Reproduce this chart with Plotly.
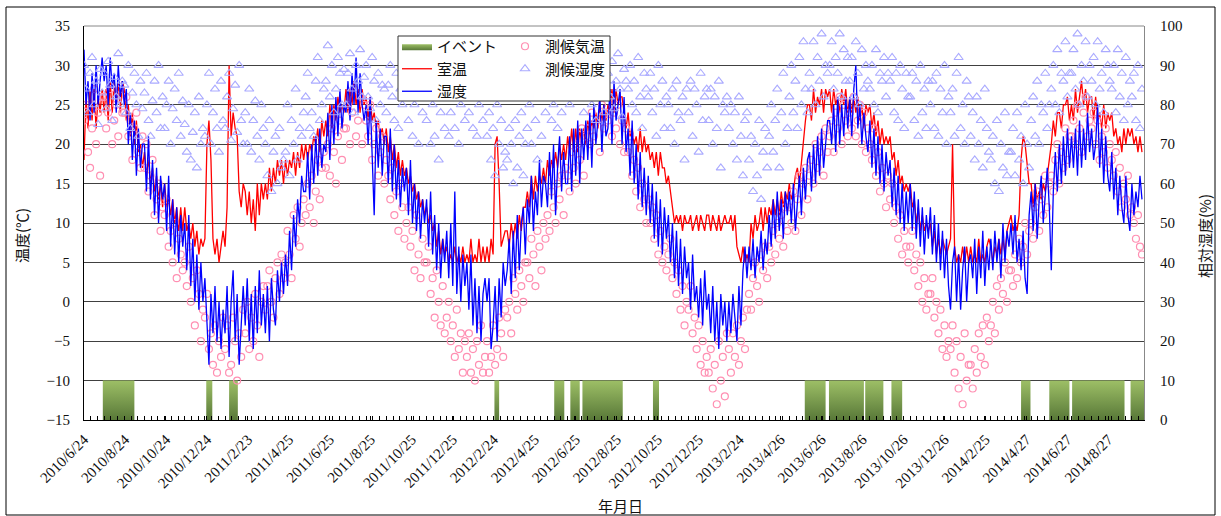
import itertools
import pandas as pd
import plotly.graph_objects as go

# ---------------- data ----------------
START = "2010-06-24"      # first day of record, values every 3 days
AXIS_END = "2014-10-19"

tick_labels = ["2010/6/24", "2010/8/24", "2010/10/24", "2010/12/24", "2011/2/23", "2011/4/25",
               "2011/6/25", "2011/8/25", "2011/10/25", "2011/12/25", "2012/2/24", "2012/4/25",
               "2012/6/25", "2012/8/25", "2012/10/25", "2012/12/25", "2013/2/24", "2013/4/26",
               "2013/6/26", "2013/8/26", "2013/10/26", "2013/12/26", "2014/2/25", "2014/4/27",
               "2014/6/27", "2014/8/27"]

# room temperature (°C), 3-day steps
room_temp = [
    [18, 26, 22, 27, 23, 27, 22, 26, 24, 27],
    [24, 27, 23, 28, 24, 28, 25, 28, 24, 28],
    [27, 23, 25, 21, 24, 20, 23, 19, 20, 17],
    [19, 16, 18, 15, 17, 14, 16, 13, 15, 12],
    [15, 12, 13, 11, 13, 10, 12, 9, 12, 9],
    [12, 9, 10, 8, 10, 7, 9, 6, 8, 7],
    [8, 20, 23, 18, 8, 6, 8, 5, 7, 9],
    [7, 12, 30, 21, 24, 22, 21, 14, 12, 15],
    [14, 11, 14, 10, 13, 9, 15, 11, 15, 13],
    [15, 13, 17, 14, 17, 15, 18, 16, 18, 15],
    [18, 16, 18, 17, 19, 16, 19, 17, 20, 18],
    [20, 18, 20, 19, 21, 20, 22, 19, 23, 21],
    [23, 21, 25, 22, 25, 23, 26, 24, 25, 24],
    [27, 24, 27, 25, 28, 25, 27, 24, 27, 25],
    [26, 23, 26, 23, 24, 22, 23, 21, 22, 20],
    [22, 19, 21, 18, 20, 17, 19, 16, 18, 16],
    [17, 15, 16, 14, 15, 13, 14, 12, 13, 11],
    [12, 10, 11, 9, 10, 7, 9, 6, 8, 6],
    [7, 5, 6, 5, 7, 5, 6, 5, 7, 5],
    [6, 5, 8, 5, 6, 5, 8, 5, 7, 5],
    [7, 5, 8, 6, 20, 21, 15, 7, 8, 9],
    [9, 7, 10, 8, 10, 8, 11, 9, 12, 12],
    [14, 12, 16, 13, 16, 14, 16, 15, 17, 15],
    [18, 16, 18, 17, 19, 17, 20, 18, 20, 18],
    [21, 19, 22, 19, 22, 19, 22, 20, 22, 20],
    [23, 21, 23, 22, 24, 22, 25, 23, 25, 23],
    [25, 24, 27, 24, 27, 25, 26, 26, 24, 22],
    [24, 21, 22, 20, 21, 19, 22, 19, 21, 19],
    [20, 18, 19, 17, 19, 16, 19, 17, 17, 15],
    [16, 14, 12, 10, 11, 10, 11, 9, 11, 10],
    [10, 11, 9, 10, 11, 9, 11, 10, 9, 11],
    [11, 9, 11, 10, 9, 11, 9, 10, 11, 10],
    [10, 11, 9, 11, 7, 6, 5, 7, 5, 6],
    [5, 10, 8, 11, 9, 10, 12, 9, 12, 10],
    [12, 11, 13, 11, 13, 11, 14, 12, 14, 13],
    [15, 13, 14, 16, 17, 15, 18, 20, 23, 25],
    [25, 23, 27, 24, 26, 25, 27, 24, 27, 26],
    [27, 24, 27, 25, 26, 24, 27, 25, 27, 24],
    [26, 24, 26, 24, 26, 23, 25, 22, 25, 24],
    [25, 22, 24, 21, 23, 20, 22, 20, 21, 20],
    [21, 18, 19, 16, 18, 15, 16, 14, 15, 14],
    [15, 12, 13, 10, 12, 9, 11, 9, 10, 9],
    [10, 7, 9, 6, 8, 6, 8, 7, 6, 7],
    [8, 20, 7, 5, 6, 5, 7, 5, 7, 5],
    [7, 5, 6, 5, 8, 5, 6, 5, 7, 8],
    [7, 5, 7, 6, 8, 6, 8, 6, 9, 10],
    [11, 9, 10, 9, 11, 18, 21, 20, 17, 15],
    [15, 12, 15, 13, 14, 13, 15, 14, 16, 18],
    [20, 23, 21, 24, 24, 22, 25, 25, 26, 23],
    [25, 23, 27, 24, 26, 28, 25, 27, 24, 26],
    [26, 23, 26, 23, 24, 22, 25, 22, 24, 23],
    [24, 21, 22, 20, 21, 19, 22, 20, 22, 21],
    [22, 20, 21, 19, 21, 19],
]

# room relative humidity (%), 3-day steps
room_hum = [
    [94, 80, 86, 76, 88, 78, 90, 80, 86, 92],
    [86, 90, 80, 92, 84, 88, 78, 90, 82, 86],
    [80, 84, 70, 78, 66, 76, 62, 74, 64, 70],
    [70, 58, 72, 56, 66, 52, 64, 50, 62, 56],
    [60, 48, 62, 44, 56, 42, 54, 40, 52, 44],
    [50, 38, 52, 34, 46, 30, 42, 28, 40, 30],
    [36, 24, 14, 32, 22, 34, 20, 30, 18, 28],
    [22, 34, 16, 30, 38, 20, 32, 14, 24, 34],
    [24, 36, 20, 32, 18, 34, 22, 38, 24, 32],
    [22, 34, 20, 36, 28, 24, 38, 30, 40, 32],
    [42, 34, 48, 38, 52, 44, 56, 50, 62, 58],
    [58, 68, 56, 70, 60, 72, 62, 74, 64, 70],
    [68, 78, 66, 80, 70, 82, 72, 84, 74, 80],
    [78, 86, 76, 88, 80, 92, 78, 88, 80, 76],
    [80, 70, 82, 66, 52, 76, 64, 74, 62, 72],
    [72, 60, 74, 58, 70, 56, 66, 54, 64, 58],
    [64, 52, 66, 50, 60, 48, 58, 46, 56, 50],
    [56, 44, 58, 42, 52, 38, 50, 36, 46, 40],
    [48, 36, 50, 34, 58, 32, 44, 30, 42, 34],
    [40, 28, 42, 24, 36, 22, 34, 20, 32, 36],
    [30, 36, 18, 24, 34, 20, 36, 26, 40, 34],
    [38, 46, 32, 48, 36, 52, 38, 50, 54, 42],
    [56, 50, 62, 48, 58, 52, 66, 54, 62, 60],
    [54, 68, 56, 70, 52, 64, 72, 58, 68, 60],
    [60, 72, 58, 74, 62, 76, 60, 74, 66, 76],
    [66, 78, 64, 80, 70, 76, 82, 68, 80, 72],
    [74, 84, 70, 86, 76, 80, 84, 70, 82, 68],
    [74, 62, 76, 60, 70, 56, 68, 54, 64, 52],
    [62, 50, 60, 46, 58, 44, 56, 42, 54, 46],
    [52, 40, 50, 36, 48, 34, 46, 32, 44, 36],
    [40, 28, 42, 30, 34, 26, 36, 24, 38, 28],
    [32, 22, 34, 20, 30, 18, 32, 24, 30, 20],
    [30, 22, 32, 26, 20, 34, 24, 38, 44, 36],
    [44, 38, 46, 36, 44, 40, 48, 38, 46, 42],
    [52, 44, 56, 46, 58, 48, 56, 46, 58, 52],
    [58, 50, 60, 48, 56, 62, 52, 64, 56, 66],
    [68, 58, 70, 60, 72, 62, 74, 64, 70, 76],
    [76, 70, 80, 68, 82, 70, 80, 72, 82, 74],
    [82, 72, 84, 90, 74, 80, 70, 78, 72, 68],
    [76, 64, 74, 62, 72, 60, 70, 58, 68, 62],
    [66, 54, 64, 52, 62, 50, 60, 48, 58, 50],
    [60, 48, 58, 46, 56, 44, 54, 42, 52, 46],
    [54, 42, 52, 40, 50, 38, 48, 36, 46, 34],
    [28, 40, 44, 30, 42, 28, 38, 44, 30, 40],
    [42, 36, 46, 32, 44, 36, 48, 34, 44, 38],
    [46, 38, 48, 40, 46, 36, 50, 40, 48, 44],
    [50, 42, 52, 40, 46, 38, 48, 36, 32, 52],
    [58, 48, 60, 46, 56, 62, 50, 58, 64, 54],
    [38, 58, 68, 58, 70, 60, 72, 62, 74, 64],
    [72, 64, 74, 62, 76, 64, 74, 66, 78, 68],
    [74, 66, 70, 80, 64, 74, 60, 72, 62, 58],
    [68, 56, 64, 52, 62, 54, 50, 62, 52, 48],
    [60, 52, 58, 54, 62, 56],
]

# weather station air temperature (°C)
station_temp = [
    [23, 25, 19, 17, 22, 27, 20, 24, 16, 26],
    [26, 22, 24, 27, 20, 23, 25, 21, 27, 24],
    [24, 26, 21, 23, 18, 22, 24, 19, 17, 21],
    [17, 20, 14, 16, 18, 11, 13, 15, 9, 12],
    [11, 13, 7, 9, 5, 10, 3, 8, 6, 4],
    [5, 2, 7, 0, 3, -3, 4, 1, -5, -1],
    [-2, 1, -6, -4, -8, -3, -9, -5, -7, -2],
    [-6, -3, -9, -8, -2, -5, -10, -4, -7, -1],
    [-4, 0, -6, -2, -5, 1, -3, -7, 0, 2],
    [-1, 2, 4, 0, -2, 3, 5, 1, 6, 3],
    [5, 9, 6, 3, 11, 8, 12, 7, 10, 13],
    [11, 15, 12, 16, 10, 14, 18, 13, 17, 19],
    [17, 20, 16, 22, 19, 15, 21, 23, 18, 22],
    [22, 25, 20, 24, 27, 21, 23, 26, 20, 25],
    [23, 21, 25, 18, 20, 22, 16, 19, 21, 15],
    [18, 16, 13, 17, 11, 14, 9, 15, 12, 8],
    [10, 12, 7, 9, 4, 11, 6, 3, 8, 5],
    [5, 7, 1, 3, -2, 4, 0, -3, 2, -4],
    [-2, 0, -5, -3, -7, -1, -6, -4, -9, -5],
    [-7, -4, -9, -6, -10, -5, -8, -3, -9, -7],
    [-5, -9, -7, -3, -8, -6, -2, -4, -7, -1],
    [-2, 0, -4, 3, 1, -1, 4, 2, 0, 5],
    [5, 3, 8, 6, 2, 9, 7, 4, 10, 8],
    [11, 9, 14, 12, 10, 15, 13, 16, 11, 17],
    [16, 14, 19, 17, 15, 20, 18, 22, 16, 21],
    [22, 20, 24, 21, 26, 23, 19, 25, 22, 24],
    [23, 26, 21, 24, 22, 25, 20, 23, 19, 22],
    [19, 21, 16, 18, 14, 17, 12, 15, 13, 10],
    [13, 10, 12, 8, 11, 6, 9, 5, 7, 4],
    [6, 8, 3, 5, 1, 4, -1, 2, -3, 0],
    [-1, 2, -4, -2, -6, -3, -8, -5, -9, -7],
    [-9, -6, -11, -8, -13, -5, -10, -7, -12, -4],
    [-6, -9, -4, -7, -3, -8, -5, -2, -6, -1],
    [1, -1, 3, 5, 2, 0, 6, 4, 7, 3],
    [7, 5, 9, 6, 10, 8, 11, 7, 12, 9],
    [12, 10, 14, 9, 13, 16, 11, 15, 17, 13],
    [16, 18, 15, 20, 17, 19, 21, 16, 22, 19],
    [21, 23, 19, 24, 22, 26, 20, 25, 23, 21],
    [24, 22, 26, 21, 23, 25, 20, 24, 19, 22],
    [20, 18, 22, 16, 19, 14, 17, 15, 12, 16],
    [13, 15, 10, 12, 8, 11, 6, 9, 7, 5],
    [7, 9, 4, 6, 2, 5, 0, 3, -1, 1],
    [1, 3, -2, 0, -4, -1, -6, -3, -7, -5],
    [-6, -3, -9, -5, -11, -7, -13, -4, -10, -8],
    [-8, -11, -6, -9, -4, -7, -3, -8, -2, -5],
    [-3, 0, -4, 2, -1, 3, 1, 5, 0, 4],
    [4, 2, 6, 3, 8, 5, 7, 10, 6, 9],
    [10, 8, 12, 14, 9, 13, 11, 16, 12, 15],
    [16, 14, 18, 20, 15, 19, 17, 22, 18, 21],
    [21, 23, 20, 25, 22, 19, 24, 26, 21, 23],
    [22, 24, 20, 23, 18, 21, 19, 22, 17, 20],
    [18, 16, 19, 14, 17, 12, 15, 13, 16, 11],
    [12, 10, 8, 11, 7, 6],
]

# weather station relative humidity (%)
station_hum = [
    [90, 84, 78, 88, 92, 80, 86, 75, 89, 83],
    [88, 79, 91, 85, 76, 87, 82, 93, 80, 86],
    [85, 78, 90, 74, 83, 88, 80, 72, 86, 79],
    [83, 88, 76, 72, 81, 86, 78, 90, 74, 82],
    [74, 80, 86, 70, 79, 84, 76, 88, 72, 81],
    [75, 68, 80, 66, 73, 78, 64, 82, 70, 74],
    [72, 80, 88, 70, 78, 84, 74, 68, 86, 76],
    [74, 82, 88, 71, 79, 85, 73, 90, 76, 70],
    [78, 70, 84, 68, 76, 81, 72, 66, 80, 74],
    [70, 62, 76, 58, 68, 72, 60, 74, 64, 66],
    [68, 80, 62, 76, 70, 84, 66, 74, 72, 78],
    [82, 88, 74, 78, 72, 86, 92, 76, 80, 84],
    [86, 95, 82, 90, 78, 84, 92, 88, 80, 89],
    [80, 88, 93, 84, 78, 90, 86, 94, 82, 87],
    [90, 82, 79, 92, 86, 76, 88, 80, 85, 84],
    [78, 85, 90, 82, 76, 88, 74, 84, 80, 86],
    [88, 76, 84, 72, 80, 86, 70, 82, 78, 84],
    [76, 84, 70, 80, 72, 86, 66, 78, 82, 74],
    [82, 72, 78, 88, 74, 84, 70, 80, 86, 76],
    [84, 78, 88, 74, 86, 72, 80, 84, 76, 82],
    [72, 78, 66, 74, 62, 80, 70, 76, 64, 68],
    [66, 74, 70, 60, 76, 64, 72, 78, 62, 70],
    [74, 80, 70, 84, 76, 66, 82, 72, 88, 78],
    [82, 88, 76, 80, 92, 74, 86, 78, 84, 90],
    [88, 80, 94, 84, 90, 82, 86, 92, 78, 88],
    [84, 90, 80, 86, 76, 92, 82, 88, 78, 86],
    [88, 82, 91, 79, 86, 93, 84, 77, 89, 86],
    [84, 90, 80, 86, 78, 92, 82, 74, 88, 84],
    [82, 88, 78, 84, 72, 90, 80, 86, 74, 82],
    [80, 74, 84, 70, 86, 78, 76, 82, 66, 84],
    [78, 86, 72, 84, 80, 68, 88, 76, 82, 84],
    [76, 84, 70, 82, 74, 86, 64, 80, 78, 82],
    [74, 80, 70, 78, 66, 82, 72, 62, 76, 78],
    [66, 72, 58, 70, 62, 76, 56, 68, 74, 64],
    [72, 80, 68, 76, 84, 64, 78, 88, 70, 74],
    [82, 90, 78, 86, 74, 92, 80, 96, 84, 78],
    [88, 84, 96, 80, 92, 86, 98, 82, 90, 88],
    [90, 96, 84, 92, 88, 98, 82, 94, 86, 92],
    [86, 92, 82, 96, 88, 80, 94, 84, 90, 86],
    [84, 90, 80, 94, 78, 88, 86, 92, 82, 88],
    [86, 92, 78, 88, 76, 90, 84, 74, 88, 82],
    [82, 88, 76, 86, 72, 90, 78, 84, 74, 86],
    [80, 86, 74, 88, 72, 84, 78, 90, 70, 82],
    [78, 84, 72, 88, 92, 74, 80, 70, 86, 82],
    [72, 78, 66, 82, 70, 76, 64, 84, 74, 68],
    [66, 72, 60, 76, 58, 70, 64, 78, 62, 68],
    [68, 74, 62, 78, 66, 72, 60, 80, 70, 64],
    [76, 82, 72, 86, 70, 80, 78, 88, 74, 80],
    [84, 90, 80, 94, 78, 88, 86, 96, 82, 88],
    [88, 94, 84, 98, 80, 90, 86, 96, 82, 90],
    [86, 92, 80, 96, 84, 88, 78, 94, 90, 86],
    [84, 90, 78, 94, 82, 88, 76, 92, 80, 86],
    [82, 88, 76, 90, 74, 84],
]

# event periods
event_start = ["2010-07-13", "2010-07-22", "2010-12-23", "2011-01-26", "2011-02-26", "2011-06-02",
               "2011-06-04", "2011-09-09", "2012-01-25", "2012-02-25", "2012-05-07", "2012-05-11",
               "2012-05-24", "2012-06-17", "2012-07-05", "2012-09-30", "2012-10-18", "2013-06-01",
               "2013-07-07", "2013-08-30", "2013-10-08", "2014-01-06", "2014-04-19", "2014-05-31",
               "2014-07-04", "2014-09-29"]
event_end = ["2010-07-14", "2010-09-07", "2011-01-01", "2011-02-08", "2011-02-27", "2011-06-03",
             "2011-06-05", "2011-09-10", "2012-01-26", "2012-03-03", "2012-05-08", "2012-05-12",
             "2012-06-08", "2012-07-01", "2012-09-03", "2012-10-01", "2012-10-27", "2013-07-02",
             "2013-08-28", "2013-09-26", "2013-10-24", "2014-01-07", "2014-05-03", "2014-06-30",
             "2014-09-20", "2014-10-19"]
event_low, event_high = -15, -10


# ---------------- build ----------------
def flat(rows):
    return list(itertools.chain.from_iterable(rows))


def dates_for(vals):
    return pd.date_range(START, periods=len(vals), freq="3D")


rt, rh, st, sh = flat(room_temp), flat(room_hum), flat(station_temp), flat(station_hum)
tick_dates = [pd.to_datetime(t, format="%Y/%m/%d") for t in tick_labels]

ev_x, ev_y = [], []
for s, e in zip(event_start, event_end):
    ev_x += [s, s, e, e, s, None]
    ev_y += [event_low, event_high, event_high, event_low, event_low, None]

JP = "Noto Sans CJK JP"
SERIF = "Liberation Serif"

fig = go.Figure()
fig.add_trace(go.Scatter(
    x=ev_x, y=ev_y, name="イベント", mode="lines", fill="toself",
    line=dict(width=0, color="#7a9a4c"),
    fillcolor="#7a9a4c",
    fillgradient=dict(type="vertical", colorscale=[[0, "#587838"], [1, "#9dbf66"]]),
    legend="legend", legendgroup="a",
))
fig.add_trace(go.Scatter(
    x=dates_for(rt), y=rt, name="室温", mode="lines",
    line=dict(color="#ff0000", width=1.3), legend="legend", legendgroup="b",
))
fig.add_trace(go.Scatter(
    x=dates_for(rh), y=rh, name="湿度", mode="lines", yaxis="y2",
    line=dict(color="#0000ff", width=1.3), legend="legend", legendgroup="c",
))
fig.add_trace(go.Scatter(
    x=dates_for(st), y=st, name="測候気温", mode="markers",
    marker=dict(symbol="circle-open", size=7, color="#ff8fb2", line=dict(width=1.2)),
    legend="legend2", legendgroup="d",
))
fig.add_trace(go.Scatter(
    x=dates_for(sh), y=sh, name="測候湿度", mode="markers", yaxis="y2",
    marker=dict(symbol="triangle-up-open", size=8, color="#aaaaff", line=dict(width=1.1)),
    legend="legend2", legendgroup="e",
))

W, H = 1221, 516
L, R, T, B = 84, 77, 26, 96
pw, ph = W - L - R, H - T - B


def px(xp):
    return (xp - L) / pw


def py(yp):
    return (H - B - yp) / ph


fig.update_layout(
    width=W, height=H,
    margin=dict(l=L, r=R, t=T, b=B),
    paper_bgcolor="white", plot_bgcolor="white",
    showlegend=True,
    xaxis=dict(
        type="date", range=[START, AXIS_END],
        tickvals=tick_dates, ticktext=tick_labels, tickangle=-45,
        tickfont=dict(family=SERIF, size=15, color="#111"),
        showgrid=False, zeroline=False,
        showline=True, linecolor="#000", linewidth=1,
        ticks="inside", ticklen=4, tickcolor="#000",
        minor=dict(ticks="inside", ticklen=4, tickcolor="#000", dtick=864000000, tick0=START),
        ticklabelstandoff=4,
    ),
    yaxis=dict(
        range=[-15, 35], dtick=5, tickfont=dict(family=SERIF, size=15, color="#111"),
        showgrid=True, gridcolor="#404040", gridwidth=1, zeroline=False,
        showline=True, linecolor="#000", linewidth=1, ticks="", ticklabelstandoff=10,
    ),
    yaxis2=dict(
        range=[0, 100], dtick=10, overlaying="y", side="right",
        tickfont=dict(family=SERIF, size=15, color="#111"),
        showgrid=False, zeroline=False,
        showline=True, linecolor="#888", linewidth=1, ticks="", ticklabelstandoff=12,
    ),
    legend=dict(
        x=px(397), y=py(30), xanchor="left", yanchor="top",
        bgcolor="rgba(0,0,0,0)", borderwidth=0,
        font=dict(family=JP, size=15, color="#111"), tracegroupgap=0, itemwidth=30,
    ),
    legend2=dict(
        x=px(505), y=py(30), xanchor="left", yanchor="top",
        bgcolor="rgba(0,0,0,0)", borderwidth=0,
        font=dict(family=JP, size=15, color="#111"), tracegroupgap=0, itemwidth=30,
    ),
    shapes=[
        # outer chart frame
        dict(type="rect", xref="paper", yref="paper", x0=px(6), x1=px(1215), y0=py(515), y1=py(7),
             line=dict(color="#000", width=1), fillcolor="rgba(0,0,0,0)", layer="below"),
        # plot area top border
        dict(type="line", xref="paper", yref="paper", x0=0, x1=1, y0=1, y1=1,
             line=dict(color="#888", width=1)),
        # legend box
        dict(type="rect", xref="paper", yref="paper", x0=px(398), x1=px(610), y0=py(101), y1=py(36),
             line=dict(color="#333", width=1), fillcolor="white", layer="above"),
    ],
    annotations=[
        dict(text="温度(℃)", xref="paper", yref="paper", x=px(22), y=py(236), textangle=-90,
             showarrow=False, font=dict(family=JP, size=15, color="#111"),
             xanchor="center", yanchor="middle"),
        dict(text="相対湿度(%)", xref="paper", yref="paper", x=px(1205), y=py(236), textangle=-90,
             showarrow=False, font=dict(family=JP, size=15, color="#111"),
             xanchor="center", yanchor="middle"),
        dict(text="年月日", xref="paper", yref="paper", x=px(620), y=py(505),
             showarrow=False, font=dict(family=JP, size=15, color="#111"),
             xanchor="center", yanchor="middle"),
    ],
)

fig.write_html("out.html", config={"displayModeBar": False},
               post_script="document.body.style.margin='0';document.body.style.overflow='hidden';")
